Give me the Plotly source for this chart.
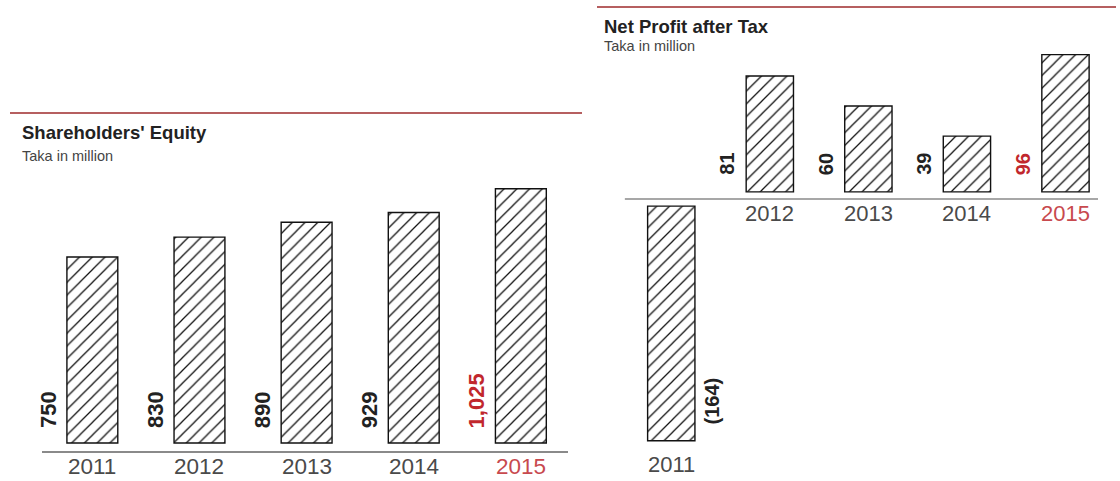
import plotly.graph_objects as go

# ---- data ----
years = ["2011", "2012", "2013", "2014", "2015"]
equity = [750, 830, 890, 929, 1025]
profit = [-164, 81, 60, 39, 96]
highlight_year = "2015"

W, H = 1120, 481
RED_LINE = "#9e2a2b"
RED_TXT = "#c1272d"
RED_YEAR = "#c8494e"
DARK = "#222222"
YEAR_C = "#4a4a4a"
FONT = "Liberation Sans, Arial, sans-serif"
GAP = 5  # visual gap (data units) between baseline and bars in right chart


def px_x(p):
    return p / W


def px_y(p):
    return (H - p) / H


def fmt(v):
    s = f"{abs(v):,}"
    return f"({s})" if v < 0 else s


pattern = dict(shape="/", fgcolor="#111111", fgopacity=1, bgcolor="white", size=9, solidity=0.14)

fig = go.Figure()

fig.add_trace(go.Bar(
    x=years, y=equity, xaxis="x", yaxis="y", width=0.475,
    marker=dict(color="white", pattern=pattern, line=dict(color="#111111", width=1.4)),
    hoverinfo="skip", showlegend=False,
))

base2 = [(-GAP if v < 0 else GAP) for v in profit]
fig.add_trace(go.Bar(
    x=years, y=profit, base=base2, xaxis="x2", yaxis="y2", width=0.48,
    marker=dict(color="white", pattern=pattern, line=dict(color="#111111", width=1.4)),
    hoverinfo="skip", showlegend=False,
))

annotations = []

# titles
annotations += [
    dict(text="<b>Shareholders' Equity</b>", x=px_x(20), y=px_y(133), xref="paper", yref="paper",
         xanchor="left", yanchor="middle", showarrow=False, font=dict(size=18.5, color=DARK, family=FONT)),
    dict(text="Taka in million", x=px_x(20), y=px_y(156), xref="paper", yref="paper",
         xanchor="left", yanchor="middle", showarrow=False, font=dict(size=14.5, color="#444", family=FONT)),
    dict(text="<b>Net Profit after Tax</b>", x=px_x(602), y=px_y(27), xref="paper", yref="paper",
         xanchor="left", yanchor="middle", showarrow=False, font=dict(size=18.5, color=DARK, family=FONT)),
    dict(text="Taka in million", x=px_x(602), y=px_y(46), xref="paper", yref="paper",
         xanchor="left", yanchor="middle", showarrow=False, font=dict(size=14.5, color="#444", family=FONT)),
]

# left chart labels (category axis: annotation x is the category index)
for i, (yr, v) in enumerate(zip(years, equity)):
    hl = yr == highlight_year
    annotations.append(dict(
        text=f"<b>{fmt(v)}</b>", x=i, y=0, xref="x", yref="y", textangle=-90,
        xanchor="center", yanchor="bottom", xshift=-44, yshift=13, showarrow=False,
        font=dict(size=22, color=RED_TXT if hl else DARK, family=FONT)))
    annotations.append(dict(
        text=yr, x=i, y=0, xref="x", yref="y", xanchor="center", yanchor="middle",
        yshift=-23, showarrow=False,
        font=dict(size=22.5, color=RED_YEAR if hl else YEAR_C, family=FONT)))

# right chart labels
for i, (yr, v, b) in enumerate(zip(years, profit, base2)):
    hl = yr == highlight_year
    col = RED_TXT if hl else DARK
    if v >= 0:
        annotations.append(dict(
            text=f"<b>{fmt(v)}</b>", x=i, y=b, xref="x2", yref="y2", textangle=-90,
            xanchor="center", yanchor="bottom", xshift=-43, yshift=15, showarrow=False,
            font=dict(size=20, color=col, family=FONT)))
        annotations.append(dict(
            text=yr, x=i, y=0, xref="x2", yref="y2", xanchor="center", yanchor="middle",
            yshift=-14, showarrow=False,
            font=dict(size=22, color=RED_YEAR if hl else YEAR_C, family=FONT)))
    else:
        annotations.append(dict(
            text=f"<b>{fmt(v)}</b>", x=i, y=b + v, xref="x2", yref="y2", textangle=-90,
            xanchor="center", yanchor="bottom", xshift=41, yshift=14, showarrow=False,
            font=dict(size=20, color=col, family=FONT)))
        annotations.append(dict(
            text=yr, x=i, y=b + v, xref="x2", yref="y2", xanchor="center", yanchor="middle",
            yshift=-24, showarrow=False,
            font=dict(size=22, color=RED_YEAR if hl else YEAR_C, family=FONT)))

shapes = [
    dict(type="line", xref="paper", yref="paper", x0=px_x(10), x1=px_x(582), y0=px_y(113), y1=px_y(113),
         line=dict(color=RED_LINE, width=1.6)),
    dict(type="line", xref="paper", yref="paper", x0=px_x(597), x1=px_x(1116), y0=px_y(7), y1=px_y(7),
         line=dict(color=RED_LINE, width=1.6)),
    dict(type="line", xref="x2 domain", yref="y2", x0=0.006, x1=1.0, y0=0, y1=0,
         line=dict(color="#8a8a8a", width=1.5)),
]

hidden_y = dict(showticklabels=False, showgrid=False, zeroline=False, ticks="", showline=False,
                fixedrange=True)

fig.update_layout(
    width=W, height=H,
    margin=dict(l=0, r=0, t=0, b=0),
    paper_bgcolor="white", plot_bgcolor="rgba(0,0,0,0)",
    font=dict(family=FONT),
    xaxis=dict(domain=[px_x(42), px_x(568)], range=[-0.47, 4.44], type="category",
               showticklabels=False, showgrid=False, zeroline=False, ticks="",
               showline=True, linecolor="#8a8a8a", linewidth=1.5, anchor="y", fixedrange=True),
    yaxis=dict(domain=[px_y(451), px_y(180)], range=[-32, 1060], anchor="x", **hidden_y),
    xaxis2=dict(domain=[px_x(622), px_x(1098)], range=[-0.5, 4.33], type="category",
                showticklabels=False, showgrid=False, zeroline=False, ticks="",
                showline=False, anchor="y2", fixedrange=True),
    yaxis2=dict(domain=[px_y(480), px_y(50)], range=[-196.5, 104.2], anchor="x2", **hidden_y),
    annotations=annotations,
    shapes=shapes,
)

fig.write_html("out.html", config={"displayModeBar": False})
